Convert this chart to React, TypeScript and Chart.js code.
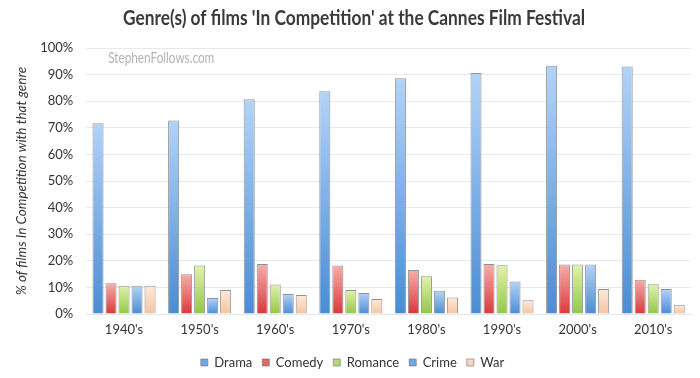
import { useEffect, useRef } from "react";
import { Chart, registerables } from "chart.js";
Chart.register(...registerables);

const decades = ["1940's", "1950's", "1960's", "1970's", "1980's", "1990's", "2000's", "2010's"];
const drama = [71.7, 72.7, 80.7, 83.7, 88.6, 90.6, 93.3, 93.0];
const comedy = [11.6, 14.9, 18.8, 18.2, 16.5, 18.8, 18.6, 12.9];
const romance = [10.6, 18.2, 11.1, 9.0, 14.2, 18.3, 18.6, 11.2];
const crime = [10.6, 6.0, 7.5, 7.9, 8.7, 12.2, 18.6, 9.4];
const war = [10.6, 9.0, 7.1, 5.6, 6.2, 5.2, 9.4, 3.5];

const titleText = "Genre(s) of films 'In Competition' at the Cannes Film Festival";
const yAxisTitle = "% of films In Competition with that genre";
const watermark = "StephenFollows.com";

const seriesStyles = [
  { label: "Drama", data: drama, top: "#b3d3f8", bottom: "#4a8cd4", legend: "#6fa6e3" },
  { label: "Comedy", data: comedy, top: "#f7aeab", bottom: "#d8393a", legend: "#e56766" },
  { label: "Romance", data: romance, top: "#e2f2ae", bottom: "#93c744", legend: "#b5da75" },
  { label: "Crime", data: crime, top: "#b3d3f8", bottom: "#4a8cd4", legend: "#6fa6e3" },
  { label: "War", data: war, top: "#fee9da", bottom: "#f5c4a1", legend: "#f8d5bd" },
];

function gradient(top: string, bottom: string) {
  return (ctx: any) => {
    const chart = ctx.chart;
    if (!chart.chartArea || ctx.type !== "data") return bottom;
    const ys = chart.scales.y;
    const v = ctx.raw as number;
    const yTop = ys.getPixelForValue(v);
    const yBot = ys.getPixelForValue(0);
    if (!isFinite(yTop) || !isFinite(yBot) || Math.abs(yTop - yBot) < 1) return bottom;
    const g = chart.ctx.createLinearGradient(0, yTop, 0, yBot);
    g.addColorStop(0, top);
    g.addColorStop(1, bottom);
    return g;
  };
}

function drawCondensed(ctx: CanvasRenderingContext2D, text: string, font: string, color: string,
  x: number, y: number, targetWidth: number, align: "left" | "center") {
  ctx.save();
  ctx.font = font;
  ctx.fillStyle = color;
  ctx.textBaseline = "alphabetic";
  const w = ctx.measureText(text).width;
  const sx = Math.min(1, targetWidth / w);
  ctx.translate(x, y);
  ctx.scale(sx, 1);
  ctx.textAlign = align;
  ctx.fillText(text, 0, 0);
  ctx.restore();
}

const textPlugin = {
  id: "condensedTexts",
  beforeDatasetsDraw(chart: any) {
    const { ctx, chartArea } = chart;
    drawCondensed(ctx, watermark, "15px Lato, sans-serif", "#b2b2b2",
      chartArea.left + 22, chartArea.top + 15, 106, "left");
  },
  afterDraw(chart: any) {
    drawCondensed(chart.ctx, titleText, "bold 21px Lato, sans-serif", "#3a3a3a",
      chart.width / 2 + 4, 25, 462, "center");
  },
};

export default function App() {
  const ref = useRef<HTMLCanvasElement | null>(null);
  useEffect(() => {
    document.body.style.margin = "0";
    const canvas = ref.current;
    if (!canvas) return;
    const chart = new Chart(canvas, {
      type: "bar",
      data: {
        labels: decades,
        datasets: seriesStyles.map((s) => ({
          label: s.label,
          data: s.data,
          backgroundColor: gradient(s.top, s.bottom),
          borderColor: "rgba(110,110,110,0.75)",
          borderWidth: 1,
          categoryPercentage: 0.86,
          barPercentage: 0.85,
        })),
      },
      options: {
        animation: false,
        responsive: true,
        maintainAspectRatio: false,
        layout: { padding: { left: 14, right: 9, top: 48, bottom: -1 } },
        plugins: {
          title: { display: false },
          legend: {
            position: "bottom",
            labels: {
              boxWidth: 7,
              boxHeight: 7,
              padding: 10,
              color: "#333",
              font: { family: "Lato, sans-serif", size: 13 },
              generateLabels: () =>
                seriesStyles.map((s, i) => ({
                  text: s.label,
                  fillStyle: s.legend,
                  strokeStyle: "rgba(110,110,110,0.6)",
                  lineWidth: 1,
                  datasetIndex: i,
                  hidden: false,
                  fontColor: "#333",
                })),
            },
          },
          tooltip: { enabled: false },
        },
        scales: {
          x: {
            grid: { display: false, drawTicks: false, tickLength: 0 },
            border: { display: true, color: "#dfe7ef" },
            ticks: { color: "#333", font: { family: "Lato, sans-serif", size: 13, lineHeight: 2 }, padding: 3 },
          },
          y: {
            min: 0,
            max: 100,
            grid: { color: "#e2eaf2", drawTicks: true, tickLength: 10, tickColor: "rgba(0,0,0,0)" },
            border: { display: false },
            ticks: {
              stepSize: 10,
              color: "#333",
              padding: 3,
              font: { family: "Lato, sans-serif", size: 13 },
              callback: (v: any) => v + "%",
            },
            title: {
              display: true,
              text: yAxisTitle,
              color: "#333",
              font: { family: "Lato, sans-serif", size: 13.5, style: "italic" },
              padding: { top: 0, bottom: 7 },
            },
          },
        },
      },
      plugins: [textPlugin],
    });
    return () => chart.destroy();
  }, []);
  return (
    <div style={{ position: "relative", width: 700, height: 378 }}>
      <canvas ref={ref} />
    </div>
  );
}
